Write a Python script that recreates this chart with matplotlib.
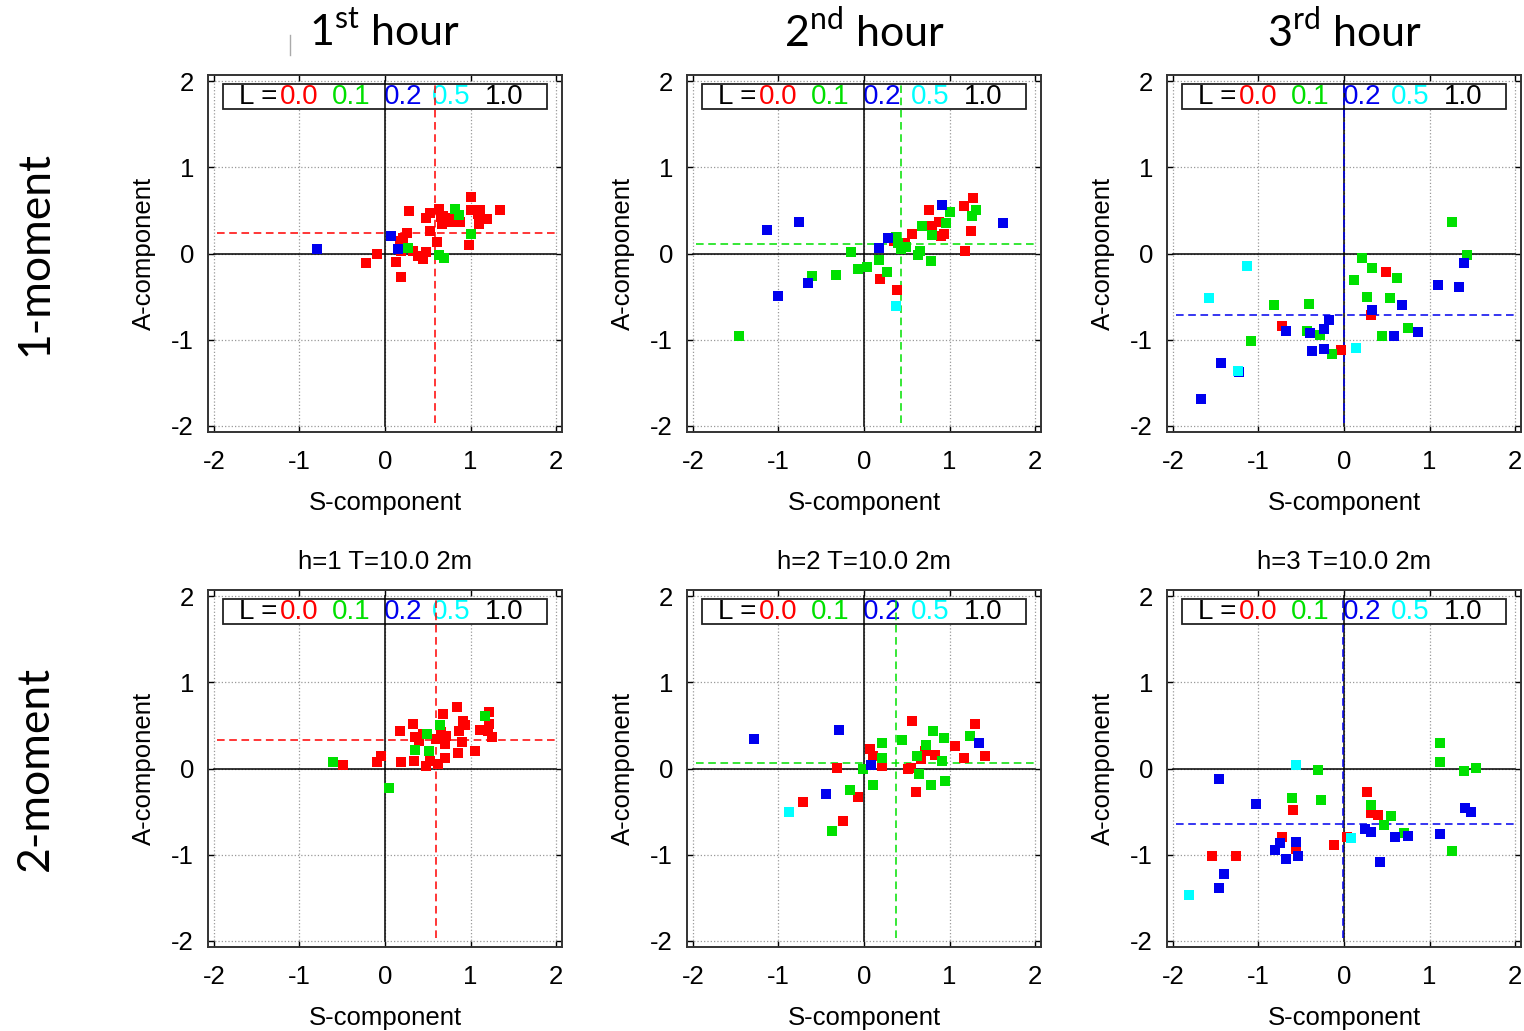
import numpy as np
import matplotlib.pyplot as plt
from matplotlib.patches import Rectangle
from matplotlib.lines import Line2D

plt.rcParams['font.family'] = ['Liberation Sans', 'DejaVu Sans']
plt.rcParams['axes.unicode_minus'] = False
plt.rcParams['mathtext.fontset'] = 'custom'
plt.rcParams['mathtext.rm'] = 'Lato'

# labels
hour_labels = [r'1$^{\mathrm{st}}$ hour', r'2$^{\mathrm{nd}}$ hour', r'3$^{\mathrm{rd}}$ hour']
row_labels = ['1-moment', '2-moment']
titles_2m = ['h=1 T=10.0 2m', 'h=2 T=10.0 2m', 'h=3 T=10.0 2m']
L_values = ['0.0', '0.1', '0.2', '0.5', '1.0']
ticks = [-2, -1, 0, 1, 2]

# ---- data: (S-component, A-component) per L value ----
# 1-moment, hour 1
m1h1_red = [(-0.22, -0.11), (-0.09, 0.0), (0.13, -0.10), (0.19, -0.27), (0.28, 0.49),
            (0.18, 0.14), (0.21, 0.18), (0.26, 0.24), (0.19, 0.03), (0.33, 0.03),
            (0.39, -0.03), (0.44, -0.06), (0.48, 0.02), (0.53, 0.26), (0.48, 0.41),
            (0.53, 0.47), (0.61, 0.13), (0.63, 0.52), (0.65, 0.42), (0.67, 0.34),
            (0.72, 0.36), (0.77, 0.41), (0.80, 0.36), (0.88, 0.36), (1.00, 0.66),
            (1.00, 0.50), (1.11, 0.51), (1.10, 0.34), (1.19, 0.40), (0.98, 0.10),
            (1.35, 0.51), (1.09, 0.46), (0.68, 0.44)]
m1h1_green = [(0.27, 0.06), (0.82, 0.52), (0.86, 0.45), (1.01, 0.23), (0.63, -0.02), (0.69, -0.05)]
m1h1_blue = [(-0.79, 0.055), (0.07, 0.20), (0.15, 0.05)]
m1h1_cyan = []
m1h1_mean = (0.58, 0.24)

# 1-moment, hour 2
m1h2_red = [(0.19, -0.29), (0.39, -0.42), (0.35, 0.14), (0.48, 0.12), (0.56, 0.23),
            (0.76, 0.50), (0.79, 0.32), (0.88, 0.37), (0.90, 0.20), (0.93, 0.23),
            (1.17, 0.55), (1.27, 0.64), (1.25, 0.26), (1.18, 0.03)]
m1h2_green = [(-1.46, -0.96), (-0.61, -0.26), (-0.33, -0.25), (-0.15, 0.02), (-0.07, -0.18),
              (0.04, -0.16), (0.17, -0.07), (0.27, -0.21), (0.37, 0.19), (0.40, 0.125),
              (0.43, 0.05), (0.49, 0.07), (0.63, -0.02), (0.66, 0.03), (0.78, -0.09),
              (0.68, 0.32), (0.79, 0.22), (0.96, 0.35), (1.01, 0.48), (1.26, 0.43), (1.31, 0.50)]
m1h2_blue = [(-1.13, 0.27), (-0.76, 0.37), (-1.01, -0.49), (-0.66, -0.34), (0.17, 0.06),
             (0.28, 0.18), (0.91, 0.56), (1.62, 0.35)]
m1h2_cyan = [(0.38, -0.61)]
m1h2_mean = (0.43, 0.105)

# 1-moment, hour 3
m1h3_red = [(-0.73, -0.84), (0.49, -0.22), (0.31, -0.71), (-0.04, -1.12)]
m1h3_green = [(-1.09, -1.02), (-0.82, -0.60), (-0.41, -0.58), (-0.43, -0.90), (-0.28, -0.94),
              (-0.14, -1.17), (0.12, -0.31), (0.21, -0.05), (0.33, -0.17), (0.27, -0.50),
              (0.54, -0.52), (0.62, -0.28), (0.75, -0.86), (0.44, -0.96), (1.26, 0.36), (1.44, -0.02)]
m1h3_blue = [(-1.67, -1.69), (-1.44, -1.27), (-1.23, -1.37), (-0.68, -0.90), (-0.40, -0.92),
             (-0.37, -1.13), (-0.23, -0.88), (-0.23, -1.11), (-0.18, -0.77), (0.33, -0.66),
             (0.68, -0.60), (0.58, -0.96), (0.87, -0.91), (1.10, -0.36), (1.34, -0.39), (1.40, -0.11)]
m1h3_cyan = [(-1.13, -0.14), (-1.58, -0.52), (-1.24, -1.36), (0.14, -1.10)]
m1h3_mean = (-0.005, -0.71)

# 2-moment, hour 1
m2h1_red = [(-0.49, 0.04), (-0.09, 0.07), (-0.05, 0.14), (0.18, 0.44), (0.19, 0.07),
            (0.33, 0.52), (0.34, 0.09), (0.35, 0.37), (0.40, 0.32), (0.44, 0.40),
            (0.48, 0.03), (0.53, 0.09), (0.62, 0.05), (0.60, 0.34), (0.65, 0.42),
            (0.68, 0.63), (0.70, 0.28), (0.70, 0.125), (0.71, 0.38), (0.84, 0.71),
            (0.86, 0.44), (0.85, 0.18), (0.90, 0.31), (0.91, 0.55), (0.93, 0.50),
            (1.05, 0.20), (1.11, 0.45), (1.21, 0.44), (1.22, 0.66), (1.22, 0.52), (1.25, 0.36)]
m2h1_green = [(-0.61, 0.07), (0.05, -0.23), (0.35, 0.21), (0.51, 0.20), (0.49, 0.40),
              (0.64, 0.51), (1.17, 0.61)]
m2h1_blue = []
m2h1_cyan = []
m2h1_mean = (0.60, 0.33)

# 2-moment, hour 2
m2h2_red = [(-0.71, -0.39), (-0.25, -0.61), (-0.07, -0.33), (-0.32, 0.01), (0.07, 0.23),
            (0.11, 0.14), (0.21, 0.03), (0.52, 0.0), (0.55, 0.01), (0.56, 0.55),
            (0.61, -0.27), (0.67, 0.11), (0.71, 0.20), (0.73, 0.23), (0.83, 0.16),
            (1.06, 0.26), (1.17, 0.125), (1.30, 0.52), (1.42, 0.14)]
m2h2_green = [(-0.38, -0.72), (-0.16, -0.25), (-0.01, -0.01), (0.11, -0.19), (0.21, 0.29),
              (0.21, 0.125), (0.44, 0.33), (0.62, 0.14), (0.64, -0.06), (0.73, 0.27),
              (0.78, -0.19), (0.81, 0.44), (0.93, 0.35), (0.91, 0.09), (0.95, -0.15), (1.24, 0.38)]
m2h2_blue = [(-1.29, 0.34), (-0.29, 0.45), (-0.45, -0.30), (0.08, 0.04), (1.35, 0.29)]
m2h2_cyan = [(-0.88, -0.50)]
m2h2_mean = (0.38, 0.06)

# 2-moment, hour 3
m2h3_red = [(-1.54, -1.02), (-1.26, -1.02), (-0.73, -0.79), (-0.60, -0.48), (-0.56, -0.93),
            (-0.12, -0.89), (0.03, -0.79), (0.27, -0.27), (0.31, -0.52), (0.40, -0.54)]
m2h3_green = [(-0.61, -0.34), (-0.30, -0.02), (-0.27, -0.37), (0.31, -0.42), (0.47, -0.66),
              (0.55, -0.55), (0.70, -0.75), (1.12, 0.29), (1.12, 0.08), (1.40, -0.03),
              (1.54, 0.01), (1.26, -0.96)]
m2h3_blue = [(-1.46, -0.12), (-1.03, -0.41), (-0.81, -0.95), (-0.75, -0.86), (-0.68, -1.05),
             (-0.56, -0.85), (-0.54, -1.02), (-1.40, -1.22), (-1.46, -1.38), (0.25, -0.70),
             (0.31, -0.74), (0.42, -1.08), (0.60, -0.79), (0.75, -0.78), (1.12, -0.76),
             (1.42, -0.46), (1.49, -0.50)]
m2h3_cyan = [(-0.56, 0.04), (0.08, -0.81), (-1.81, -1.47)]
m2h3_mean = (-0.01, -0.64)

panels = [
    [(m1h1_red, m1h1_green, m1h1_blue, m1h1_cyan, m1h1_mean),
     (m1h2_red, m1h2_green, m1h2_blue, m1h2_cyan, m1h2_mean),
     (m1h3_red, m1h3_green, m1h3_blue, m1h3_cyan, m1h3_mean)],
    [(m2h1_red, m2h1_green, m2h1_blue, m2h1_cyan, m2h1_mean),
     (m2h2_red, m2h2_green, m2h2_blue, m2h2_cyan, m2h2_mean),
     (m2h3_red, m2h3_green, m2h3_blue, m2h3_cyan, m2h3_mean)],
]

# styles
point_colors = ['#ff0000', '#00e000', '#0000ee', '#00ffff']
L_colors = ['#ff0000', '#00e000', '#0000ee', '#00ffff', '#000000']
mean_colors = ['#ff0000', '#00e000', '#0000ee']
L_text_x = [-1.23, -0.62, -0.015, 0.545, 1.163]
lefts = [208 / 1524, 687 / 1524, 1167 / 1524]
bottoms = [599 / 1031, 84 / 1031]
width, height = 354 / 1524, 357 / 1031

fig = plt.figure(figsize=(15.24, 10.31), dpi=100)

for r in range(2):
    for c in range(3):
        red, green, blue, cyan, mean = panels[r][c]
        ax = fig.add_axes([lefts[c], bottoms[r], width, height])
        ax.set_xlim(-2.07, 2.07)
        ax.set_ylim(-2.07, 2.07)
        ax.set_xticks(ticks)
        ax.set_yticks(ticks)
        ax.set_axisbelow(True)
        ax.grid(True, linestyle=':', color='#999999', linewidth=0.9)
        ax.tick_params(direction='in', length=4, width=1, labelsize=18.5,
                       top=True, right=True)
        ax.tick_params(axis='x', pad=13)
        ax.tick_params(axis='y', pad=10)
        for sp in ax.spines.values():
            sp.set_linewidth(1.4)
            sp.set_color('#333333')

        # legend-like box with L values
        ax.add_patch(Rectangle((-1.90, 1.68), 3.80, 0.29, facecolor='white',
                               edgecolor='#222222', linewidth=1.3, zorder=1.5))
        ax.text(-1.71, 1.81, 'L =', fontsize=20, va='center', ha='left', color='black', zorder=1.6)
        for lv, lc, lx in zip(L_values, L_colors, L_text_x):
            ax.text(lx, 1.81, lv, fontsize=20, va='center', ha='left', color=lc, zorder=1.6)

        # zero axes
        ax.plot([-2, 2], [0, 0], color='black', linewidth=1.1, zorder=2)
        ax.plot([0, 0], [-2, 2], color='black', linewidth=1.1, zorder=2)

        # mean lines
        mc = mean_colors[c]
        ax.plot([-1.97, 2.0], [mean[1], mean[1]], color=mc, linestyle='--',
                dashes=(5, 3), linewidth=1.1, zorder=2.1)
        ax.plot([mean[0], mean[0]], [-1.97, 2.0], color=mc, linestyle='--',
                dashes=(5, 3), linewidth=1.1, zorder=2.1)

        for pts, pc in zip((red, green, blue, cyan), point_colors):
            if len(pts) == 0:
                continue
            arr = np.array(pts)
            ax.scatter(arr[:, 0], arr[:, 1], marker='s', s=52, color=pc,
                       linewidths=0, zorder=3)

        ax.set_xlabel('S-component', fontsize=18.5, labelpad=12)
        ax.set_ylabel('A-component', fontsize=18.5, labelpad=11)
        if r == 1:
            ax.set_title(titles_2m[c], fontsize=18.5, pad=15)

# column headings
for c in range(3):
    xc = lefts[c] + width / 2
    fig.text(xc, 1 - 31 / 1031, hour_labels[c], fontsize=31, family='Lato',
             ha='center', va='center')

# row labels
for r in range(2):
    yc = bottoms[r] + height / 2
    fig.text(35 / 1524, yc, row_labels[r], fontsize=32, family='Lato',
             rotation=90, ha='center', va='center')

# small stray mark near first heading
fig.add_artist(Line2D([290 / 1524, 290 / 1524], [1 - 35 / 1031, 1 - 55 / 1031],
                      color='#aaaaaa', linewidth=1))

fig.savefig('out.png', dpi=100)
